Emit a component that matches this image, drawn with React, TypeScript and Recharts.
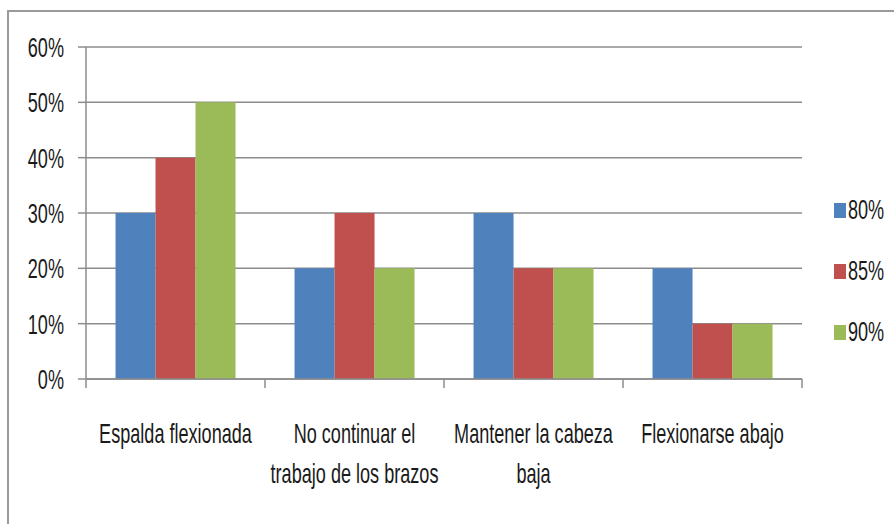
import { Bar, BarChart, CartesianGrid, XAxis, YAxis } from 'recharts'

const categories = [
  'Espalda flexionada',
  'No continuar el\ntrabajo de los brazos',
  'Mantener la cabeza\nbaja',
  'Flexionarse abajo',
]
const seriesNames = ['80%', '85%', '90%']
const values80 = [30, 20, 30, 20]
const values85 = [40, 30, 20, 10]
const values90 = [50, 20, 20, 10]
const yTicks = [0, 10, 20, 30, 40, 50, 60]

const COLORS = ['#4F81BD', '#C0504D', '#9BBB59']
const GRAY = '#8c8c8c'
const FONT = '"Liberation Sans", Arial, sans-serif'
const SQUEEZE = 0.67

const W = 894
const H = 524
const PLOT_LEFT = 86
const PLOT_RIGHT = 802
const BAND = (PLOT_RIGHT - PLOT_LEFT) / categories.length

const data = categories.map((name, i) => ({
  name,
  s80: values80[i],
  s85: values85[i],
  s90: values90[i],
}))

function ValueTick({ x, y, payload }: any) {
  return (
    <text
      transform={`translate(${x},${y + 10}) scale(${SQUEEZE},1)`}
      textAnchor="end"
      fontFamily={FONT}
      fontSize={27}
      fill="#1a1a1a"
    >
      {`${payload.value}%`}
    </text>
  )
}

function CategoryTick({ x, y, payload, index }: any) {
  const lines = String(payload.value).split('\n')
  const half = BAND / 2
  return (
    <g>
      <line x1={x - half} x2={x - half} y1={y} y2={y + 9} stroke={GRAY} strokeWidth={1.5} />
      {index === categories.length - 1 && (
        <line x1={x + half} x2={x + half} y1={y} y2={y + 9} stroke={GRAY} strokeWidth={1.5} />
      )}
      <text
        transform={`translate(${x},${y + 64}) scale(${SQUEEZE},1)`}
        textAnchor="middle"
        fontFamily={FONT}
        fontSize={27}
        fill="#1a1a1a"
      >
        {lines.map((l, i) => (
          <tspan key={i} x={0} dy={i === 0 ? 0 : 40}>
            {l}
          </tspan>
        ))}
      </text>
    </g>
  )
}

// legend kept outside the chart so it doesn't shrink the plot area
function LegendBox() {
  return (
    <div style={{ position: 'absolute', left: 834, top: 180, width: 60 }}>
      {seriesNames.map((n, i) => (
        <div key={n} style={{ height: 61, display: 'flex', alignItems: 'center' }}>
          <span
            style={{
              width: 12,
              height: 15,
              flexShrink: 0,
              background: COLORS[i],
              display: 'inline-block',
            }}
          />
          <span
            style={{
              marginLeft: 2,
              fontFamily: FONT,
              fontSize: 27,
              color: '#1a1a1a',
              transform: `scaleX(${SQUEEZE})`,
              transformOrigin: 'left center',
              display: 'inline-block',
              lineHeight: 1,
              whiteSpace: 'nowrap',
            }}
          >
            {n}
          </span>
        </div>
      ))}
    </div>
  )
}

export default function App() {
  return (
    <div
      style={{
        position: 'absolute',
        left: 0,
        top: 0,
        width: W,
        height: H,
        overflow: 'hidden',
        background: '#fff',
      }}
    >
      <div
        style={{
          position: 'absolute',
          left: 7,
          top: 10,
          width: W + 20,
          height: H + 20,
          border: `2px solid #9a9a9a`,
        }}
      />
      <div style={{ position: 'absolute', left: 0, top: 0 }}>
        <BarChart
          width={W}
          height={H}
          data={data}
          margin={{ top: 47, right: W - PLOT_RIGHT, left: 0, bottom: 0 }}
          barCategoryGap="16.5%"
          barGap={0}
        >
          <CartesianGrid vertical={false} stroke={GRAY} strokeWidth={1.5} />
          <XAxis
            dataKey="name"
            interval={0}
            height={145}
            tickLine={false}
            tickSize={0}
            tickMargin={0}
            axisLine={{ stroke: GRAY, strokeWidth: 1.5 }}
            tick={<CategoryTick />}
          />
          <YAxis
            width={PLOT_LEFT}
            domain={[0, 60]}
            ticks={yTicks}
            interval={0}
            tickSize={8}
            tickMargin={14}
            tickLine={{ stroke: GRAY, strokeWidth: 1.5 }}
            axisLine={{ stroke: GRAY, strokeWidth: 1.5 }}
            tick={<ValueTick />}
          />
          <Bar dataKey="s80" name={seriesNames[0]} fill={COLORS[0]} isAnimationActive={false} />
          <Bar dataKey="s85" name={seriesNames[1]} fill={COLORS[1]} isAnimationActive={false} />
          <Bar dataKey="s90" name={seriesNames[2]} fill={COLORS[2]} isAnimationActive={false} />
        </BarChart>
      </div>
      <LegendBox />
    </div>
  )
}
